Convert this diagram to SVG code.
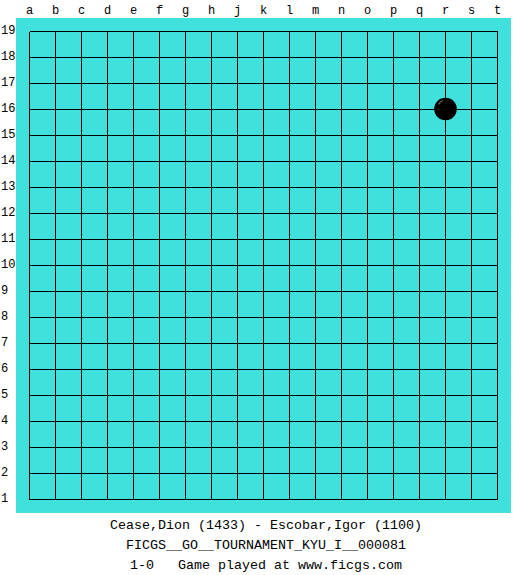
<svg xmlns="http://www.w3.org/2000/svg" width="525" height="575" viewBox="0 0 525 575">
  <style>
    .lbl { font-family: "Liberation Mono", "DejaVu Sans Mono", monospace; font-size: 12px; fill: #000; }
    .col { text-anchor: middle; }
    .cap { font-family: "Liberation Mono", "DejaVu Sans Mono", monospace; font-size: 13.33px; fill: #000; text-anchor: middle; white-space: pre; }
    .grid { stroke: #000; stroke-width: 1; fill: none; shape-rendering: crispEdges; }
  </style>
  <rect width="525" height="575" fill="#ffffff"/>
  <g id="board">
    <rect x="16" y="18" width="495" height="495" fill="#40E0DC"/>
  </g>
  <g id="grid">
    <path class="grid" d="M29.5 31.5V499.5M55.5 31.5V499.5M81.5 31.5V499.5M107.5 31.5V499.5M133.5 31.5V499.5M159.5 31.5V499.5M185.5 31.5V499.5M211.5 31.5V499.5M237.5 31.5V499.5M263.5 31.5V499.5M289.5 31.5V499.5M315.5 31.5V499.5M341.5 31.5V499.5M367.5 31.5V499.5M393.5 31.5V499.5M419.5 31.5V499.5M445.5 31.5V499.5M471.5 31.5V499.5M497.5 31.5V499.5M29.5 31.5H497.5M29.5 57.5H497.5M29.5 83.5H497.5M29.5 109.5H497.5M29.5 135.5H497.5M29.5 161.5H497.5M29.5 187.5H497.5M29.5 213.5H497.5M29.5 239.5H497.5M29.5 265.5H497.5M29.5 291.5H497.5M29.5 317.5H497.5M29.5 343.5H497.5M29.5 369.5H497.5M29.5 395.5H497.5M29.5 421.5H497.5M29.5 447.5H497.5M29.5 473.5H497.5M29.5 499.5H497.5"/>
  </g>
  <g id="column-labels" class="lbl col">
    <text x="29.5" y="14">a</text>
    <text x="55.5" y="14">b</text>
    <text x="81.5" y="14">c</text>
    <text x="107.5" y="14">d</text>
    <text x="133.5" y="14">e</text>
    <text x="159.5" y="14">f</text>
    <text x="185.5" y="14">g</text>
    <text x="211.5" y="14">h</text>
    <text x="237.5" y="14">j</text>
    <text x="263.5" y="14">k</text>
    <text x="289.5" y="14">l</text>
    <text x="315.5" y="14">m</text>
    <text x="341.5" y="14">n</text>
    <text x="367.5" y="14">o</text>
    <text x="393.5" y="14">p</text>
    <text x="419.5" y="14">q</text>
    <text x="445.5" y="14">r</text>
    <text x="471.5" y="14">s</text>
    <text x="497.5" y="14">t</text>
  </g>
  <g id="row-labels" class="lbl">
    <text x="1" y="34">19</text>
    <text x="1" y="60">18</text>
    <text x="1" y="86">17</text>
    <text x="1" y="112">16</text>
    <text x="1" y="138">15</text>
    <text x="1" y="164">14</text>
    <text x="1" y="190">13</text>
    <text x="1" y="216">12</text>
    <text x="1" y="242">11</text>
    <text x="1" y="268">10</text>
    <text x="1" y="294">9</text>
    <text x="1" y="320">8</text>
    <text x="1" y="346">7</text>
    <text x="1" y="372">6</text>
    <text x="1" y="398">5</text>
    <text x="1" y="424">4</text>
    <text x="1" y="450">3</text>
    <text x="1" y="476">2</text>
    <text x="1" y="502">1</text>
  </g>
  <g id="stone-r16">
    <circle cx="445.5" cy="109" r="11.3" fill="#000"/>
    <path d="M438.5 104.5 A8 8 0 0 1 443 100.5" stroke="#666" stroke-width="1.2" fill="none"/>
  </g>
  <g id="caption" class="cap">
    <text x="266" y="529">Cease,Dion (1433) - Escobar,Igor (1100)</text>
    <text x="266" y="549">FICGS__GO__TOURNAMENT_KYU_I__000081</text>
    <text x="266" y="569" xml:space="preserve">1-0   Game played at www.ficgs.com</text>
  </g>
</svg>
